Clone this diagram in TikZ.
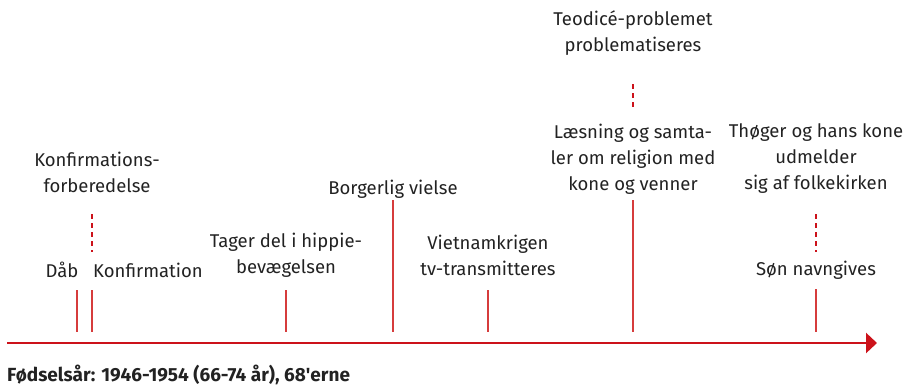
\documentclass[tikz,border=0pt]{standalone}
\usepackage{fontspec}
\setmainfont{Fira Sans}
\usetikzlibrary{arrows.meta}
\definecolor{axred}{RGB}{204,18,26}
\definecolor{tickred}{RGB}{214,60,60}
\definecolor{txt}{RGB}{34,34,34}
\tikzset{
  lbl/.style={inner sep=0pt, align=center, text=txt, font=\fontsize{18.5}{26}\selectfont},
  tickline/.style={draw=tickred, line width=1.3pt},
  dtickline/.style={draw=axred, line width=1.2pt, dash pattern=on 5pt off 4pt},
  axis/.style={draw=axred, line width=2.6pt, -{Triangle[length=11pt,width=20pt]}},
}
\begin{document}
\begin{tikzpicture}[x=1pt,y=-1pt]
\useasboundingbox (0,0) rectangle (903,386);
% axis
\coordinate (axS) at (7,343);
\coordinate (axE) at (877,343);
\draw[axis] (axS) -- (axE);
% labels
\node[lbl] (daab) at (62,270) {Dåb};
\node[lbl] (konf) at (148,270) {Konfirmation};
\node[lbl] (konfb) at (97,172.5) {Konfirmations-\\forberedelse};
\node[lbl] (hippie) at (286,255) {Tager del i hippie-\\bevægelsen};
\node[lbl] (vielse) at (393,189) {Borgerlig vielse};
\node[lbl] (viet) at (488,255) {Vietnamkrigen\\tv-transmitteres};
\node[lbl] (teod) at (633,33) {Teodicé-problemet\\problematiseres};
\node[lbl] (laes) at (633,159) {Læsning og samta-\\ler om religion med\\kone og venner};
\node[lbl] (thoeger) at (816,159) {Thøger og hans kone\\udmelder\\sig af folkekirken};
\node[lbl] (soen) at (816,270) {Søn navngives};
\node[inner sep=0pt, anchor=base west, text=txt, font=\fontsize{19}{20}\selectfont\bfseries] (foed) at (7,381.5) {Fødselsår: 1946-1954 (66-74 år), 68\textquotesingle erne};
% ticks
\coordinate (t1a) at (77,290); \coordinate (t1b) at (77,332);
\coordinate (t2a) at (92,290); \coordinate (t2b) at (92,332);
\coordinate (t3a) at (286,290); \coordinate (t3b) at (286,332);
\coordinate (t4a) at (393,200); \coordinate (t4b) at (393,332);
\coordinate (t5a) at (488,290); \coordinate (t5b) at (488,332);
\coordinate (t6a) at (633,200); \coordinate (t6b) at (633,332);
\coordinate (t7a) at (816,289); \coordinate (t7b) at (816,332);
\draw[tickline] (t1a) -- (t1b);
\draw[tickline] (t2a) -- (t2b);
\draw[tickline] (t3a) -- (t3b);
\draw[tickline] (t4a) -- (t4b);
\draw[tickline] (t5a) -- (t5b);
\draw[tickline] (t6a) -- (t6b);
\draw[tickline] (t7a) -- (t7b);
% dashed connectors
\coordinate (d1a) at (92,214); \coordinate (d1b) at (92,252);
\coordinate (d2a) at (633,84); \coordinate (d2b) at (633,110);
\coordinate (d3a) at (816,214); \coordinate (d3b) at (816,252);
\draw[dtickline] (d1a) -- (d1b);
\draw[dtickline] (d2a) -- (d2b);
\draw[dtickline] (d3a) -- (d3b);
\end{tikzpicture}
\end{document}
